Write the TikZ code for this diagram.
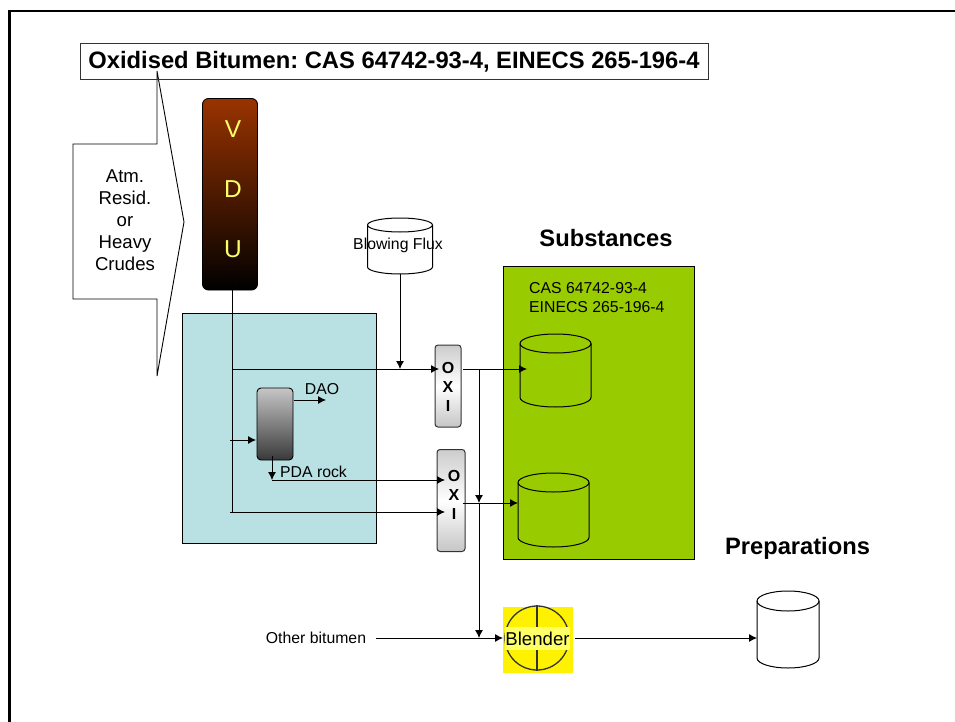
\documentclass[tikz,border=0pt]{standalone}
\usepackage{fontspec}
\setmainfont{Liberation Sans}
\usepackage{xcolor}
\usetikzlibrary{arrows.meta, positioning, calc}
\definecolor{vdutop}{HTML}{993300}
\definecolor{pdabox}{HTML}{B9E0E3}
\definecolor{subsgreen}{HTML}{99CC00}
\definecolor{labelyellow}{HTML}{FFFF66}
\definecolor{linegray}{HTML}{333333}
\frenchspacing
% name, centre, width, height, cap height, fill
\newcommand{\tankat}[6]{%
  \node[minimum width=#3pt, minimum height=#4pt, inner sep=0pt, outer sep=0pt] (#1) at (#2) {};
  \draw[black, line width=1pt, fill=#6] ($(#1.north west)+(0,#5)$) arc[start angle=180, end angle=360, x radius=#3/2, y radius=#5]
    -- ($(#1.south east)+(0,-#5)$) arc[start angle=0, end angle=180, x radius=#3/2, y radius=#5] -- cycle;
  \draw[black, line width=1pt] ($(#1.north west)+(0,#5)$) arc[start angle=180, end angle=0, x radius=#3/2, y radius=#5];
}

\begin{document}
\begin{tikzpicture}[x=1pt, y=-1pt,
            plain/.style={font=\fontsize{15.8}{19}\selectfont, inner sep=0pt},
            head/.style={font=\fontsize{23.7}{27}\selectfont\bfseries, inner sep=0pt},
            vduletter/.style={labelyellow, font=\fontsize{24.5}{28}\selectfont, inner sep=0pt},
            oxi/.style={draw=linegray, rounded corners=3pt, line width=1pt, top color=gray!40, bottom color=gray!45, middle color=white, inner sep=0pt, outer sep=0pt},
            flow/.style={draw=black, line width=0.9pt, -{Latex[length=8pt,width=8pt]}},
            pipe/.style={draw=black, line width=0.9pt}]
            \useasboundingbox (0,0) rectangle (955,722);
            % outer frame
            \draw[black, line width=2.2pt] (9.5,722) -- (9.5,11) -- (955,11);
            % coloured areas
            \node[draw=black, fill=pdabox, line width=0.9pt, minimum width=193.5pt, minimum height=230pt, inner sep=0pt] (pda) at (279.25,428) {};
            \node[draw=black, fill=subsgreen, line width=0.9pt, minimum width=191pt, minimum height=293pt, inner sep=0pt] (subs) at (598.5,412.5) {};
            \node[fill=yellow, minimum width=70pt, minimum height=66pt, inner sep=0pt] (blendbg) at (538,640) {};
            % feed callout
            \draw[black, line width=0.9pt, fill=white] (157,71) -- (157,144) -- (73,144) -- (73,299) -- (157,299) -- (157,376) -- (184,222) -- cycle;
            \node[align=center, inner sep=0pt, font=\fontsize{18.6}{22}\selectfont] (feed) at (125,220.5) {Atm.\\Resid.\\or\\Heavy\\Crudes};
            % title
            \node[draw=linegray, line width=0.9pt, minimum width=628pt, minimum height=36pt, inner sep=0pt, font=\fontsize{23.75}{28}\selectfont\bfseries] (title) at (394,61.5) {Oxidised Bitumen: CAS 64742-93-4, EINECS 265-196-4};
            % columns
            \node[draw=black, rounded corners=6pt, line width=0.9pt, top color=vdutop, bottom color=black, minimum width=55pt, minimum height=191.5pt, inner sep=0pt] (vdu) at (230,194.25) {};
            \node[vduletter] (vduv) at (233,129) {V};
            \node[vduletter] (vdud) at (233,189) {D};
            \node[vduletter] (vduu) at (233,249) {U};
            \node[draw=black, rounded corners=4pt, line width=0.9pt, top color=gray!45, bottom color=gray!45!black, minimum width=36pt, minimum height=72pt, inner sep=0pt] (pdacol) at (275,424) {};
            \node[oxi, minimum width=26pt, minimum height=82pt] (oxione) at (448,386) {};
            \node[oxi, minimum width=28pt, minimum height=102pt] (oxitwo) at (451,500.5) {};
            \node[font=\fontsize{16}{19}\selectfont\bfseries, align=center, inner sep=0pt] (oxionetxt) at (448,387) {O\\X\\I};
            \node[font=\fontsize{16}{19}\selectfont\bfseries, align=center, inner sep=0pt] (oxitwotxt) at (454,495) {O\\X\\I};
            % tanks
            \tankat{flux}{400,246}{65}{56}{7}{white}
            \node[plain] (fluxtxt) at (398,245) {Blowing Flux};
            \tankat{tankone}{555.5,370.5}{71}{73}{9.5}{subsgreen}
            \tankat{tanktwo}{553.5,510}{71}{74}{9.5}{subsgreen}
            \tankat{tankthree}{788,629.5}{62}{77}{10}{white}
            % blender
            \node[circle, draw=linegray, line width=1.3pt, minimum size=64pt, inner sep=0pt] (blender) at (537,638) {};
            \draw[linegray, line width=1.3pt] (blender.north) -- (blender.south);
            \node[fill=labelyellow, inner sep=0pt, minimum width=65pt, minimum height=23pt, font=\fontsize{18.6}{22}\selectfont] (blendtxt) at (537.5,638.5) {Blender};
            % headings and labels
            \node[head] (substxt) at (606,238) {Substances};
            \node[head] (preptxt) at (797.5,548) {Preparations};
            \node[plain, align=left, anchor=north west] (castxt) at (529,282) {CAS 64742-93-4\\EINECS 265-196-4};
            \node[plain] (daotxt) at (322,389) {DAO};
            \node[plain] (rocktxt) at (313.5,472) {PDA rock};
            \node[plain] (othertxt) at (316,638) {Other bitumen};
            % junction points
            \coordinate (vdufoot) at (232,283);
            \coordinate (vduend) at (230,512);
            \coordinate (vdujoin) at (232,369);
            \coordinate (vdulow) at (232,512);
            \coordinate (fluxjoin) at (400,369);
            \coordinate (oxionein) at (439,369);
            \coordinate (oxitwoin) at (445,480);
            \coordinate (oxitwolow) at (445,512);
            \coordinate (pdain) at (230,440);
            \coordinate (pdainend) at (256,440);
            \coordinate (daostart) at (293.5,400);
            \coordinate (daoend) at (326,400);
            \coordinate (rockstart) at (272,456);
            \coordinate (rockjoin) at (272,480);
            \coordinate (oxioneout) at (463,369);
            \coordinate (tankonein) at (527,369);
            \coordinate (oxitwoout) at (463,503);
            \coordinate (tanktwoin) at (518,503);
            \coordinate (busin) at (479,369);
            \coordinate (busmid) at (479,503);
            \coordinate (busend) at (479,638);
            \coordinate (otherend) at (503,638);
            \coordinate (otherstart) at (376,638);
            \coordinate (blendout) at (575,638);
            \coordinate (tankthreein) at (757,638);
            % connectors
            \draw[pipe] (vdufoot) -- (vdulow);
            \draw[flow] (vdujoin) -- (oxionein);
            \draw[flow] (flux.south) -- (fluxjoin);
            \draw[flow] (pdain) -- (pdainend);
            \draw[flow] (daostart) -- (daoend);
            \draw[flow] (rockstart) -- (rockjoin);
            \draw[flow] (rockjoin) -- (oxitwoin);
            \draw[flow] (vduend) -- (oxitwolow);
            \draw[flow] (oxioneout) -- (tankonein);
            \draw[flow] (oxitwoout) -- (tanktwoin);
            \draw[flow] (busin) -- (busmid);
            \draw[flow] (busmid) -- (busend);
            \draw[flow] (otherstart) -- (otherend);
            \draw[flow] (blendout) -- (tankthreein);
        \end{tikzpicture}
\end{document}
